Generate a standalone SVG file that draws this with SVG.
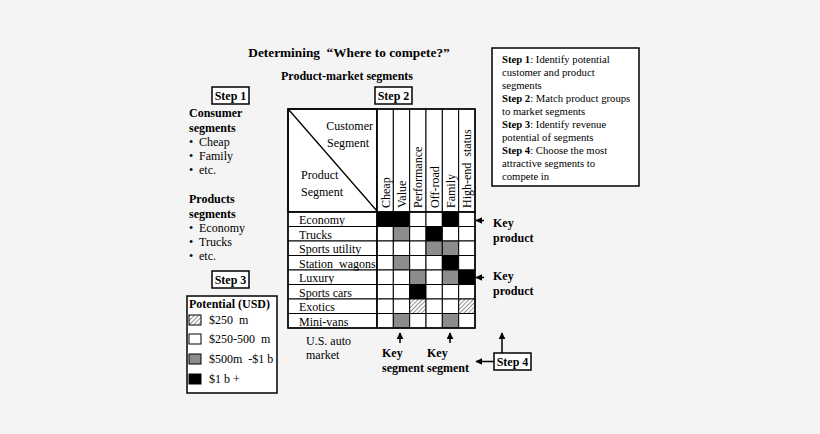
<svg xmlns="http://www.w3.org/2000/svg" width="820" height="434" viewBox="0 0 820 434">
<defs>
<style>
.t{font-family:"Liberation Serif","Times New Roman",serif;font-size:12px;fill:#000}
.s{font-size:10.7px}
.ttl{font-size:13.3px}
.b{font-weight:bold}
.box{fill:#fff;stroke:#000;stroke-width:1.5}
.cell{stroke:#000;stroke-width:1}
.w{fill:#fff}.g{fill:#8c8c8c}.k{fill:#000}.h{fill:url(#hatch)}
.ln{stroke:#000;stroke-width:1.5;fill:none}
</style>
<pattern id="hatch" width="3" height="3" patternUnits="userSpaceOnUse" patternTransform="rotate(45)">
<rect width="3" height="3" fill="#fff"/>
<line x1="0" y1="0" x2="0" y2="3" stroke="#777" stroke-width="1.6"/>
</pattern>
<marker id="ah" viewBox="0 0 10 10" refX="9" refY="5" markerWidth="7" markerHeight="7" orient="auto" markerUnits="userSpaceOnUse">
<path d="M0,0 L10,5 L0,10 z" fill="#000"/>
</marker>
</defs>
<rect width="820" height="434" fill="#f4f4f4"/>

<g id="title">
<text class="t b ttl" x="349" y="57" text-anchor="middle" style="white-space:pre">Determining  “Where to compete?”</text>
<text class="t b" x="347" y="80" text-anchor="middle">Product-market segments</text>
</g>

<g id="step1">
<rect class="box" x="212" y="87" width="37" height="17"/>
<text class="t b" x="230.5" y="100" text-anchor="middle">Step 1</text>
</g>
<g id="step2">
<rect class="box" x="375" y="87" width="37" height="17"/>
<text class="t b" x="393.5" y="100" text-anchor="middle">Step 2</text>
</g>
<g id="step3">
<rect class="box" x="212" y="271" width="37" height="17"/>
<text class="t b" x="230.5" y="284" text-anchor="middle">Step 3</text>
</g>

<g id="segments-list">
<text class="t b" x="189" y="117">Consumer</text>
<text class="t b" x="189" y="132">segments</text>
<text class="t" x="189" y="146">•</text><text class="t" x="199" y="146">Cheap</text>
<text class="t" x="189" y="160">•</text><text class="t" x="199" y="160">Family</text>
<text class="t" x="189" y="174">•</text><text class="t" x="199" y="174">etc.</text>
<text class="t b" x="189" y="203">Products</text>
<text class="t b" x="189" y="218">segments</text>
<text class="t" x="189" y="232">•</text><text class="t" x="199" y="232">Economy</text>
<text class="t" x="189" y="246">•</text><text class="t" x="199" y="246">Trucks</text>
<text class="t" x="189" y="260">•</text><text class="t" x="199" y="260">etc.</text>
</g>

<g id="legend">
<rect class="box" x="187" y="296" width="90" height="97"/>
<text class="t b" x="189" y="308">Potential (USD)</text>
<rect class="cell h" x="189" y="315" width="12" height="10"/>
<text class="t" x="209" y="324" style="white-space:pre">$250  m</text>
<rect class="cell w" x="189" y="334" width="12" height="10"/>
<text class="t" x="209" y="343" style="white-space:pre">$250-500  m</text>
<rect class="cell g" x="189" y="354" width="12" height="10"/>
<text class="t" x="209" y="363" style="white-space:pre">$500m  -$1 b</text>
<rect class="cell k" x="189" y="374" width="12" height="10"/>
<text class="t" x="209" y="383">$1 b +</text>
</g>

<g id="steps-box">
<rect class="box" x="492" y="48" width="147" height="138"/>
<text class="t s" x="502" y="63"><tspan class="b">Step 1</tspan>: Identify potential</text>
<text class="t s" x="502" y="76">customer and product</text>
<text class="t s" x="502" y="89">segments</text>
<text class="t s" x="502" y="102"><tspan class="b">Step 2</tspan>: Match product groups</text>
<text class="t s" x="502" y="115">to market segments</text>
<text class="t s" x="502" y="128"><tspan class="b">Step 3</tspan>: Identify revenue</text>
<text class="t s" x="502" y="141">potential of segments</text>
<text class="t s" x="502" y="154"><tspan class="b">Step 4</tspan>: Choose the most</text>
<text class="t s" x="502" y="167">attractive segments to</text>
<text class="t s" x="502" y="180">compete in</text>
</g>

<g id="matrix">
<rect x="288" y="109" width="89" height="103" fill="#fff" stroke="#000" stroke-width="1.5"/>
<line x1="289" y1="110" x2="377" y2="211" stroke="#000" stroke-width="1.3"/>
<text class="t" x="373" y="130" text-anchor="end">Customer</text>
<text class="t" x="327" y="147">Segment</text>
<text class="t" x="301" y="179">Product</text>
<text class="t" x="301" y="196">Segment</text>
<g id="col-headers">
<rect class="cell w" x="377" y="109" width="16.33" height="103"/>
<rect class="cell w" x="393.33" y="109" width="16.33" height="103"/>
<rect class="cell w" x="409.67" y="109" width="16.33" height="103"/>
<rect class="cell w" x="426" y="109" width="16.33" height="103"/>
<rect class="cell w" x="442.33" y="109" width="16.33" height="103"/>
<rect class="cell w" x="458.67" y="109" width="16.33" height="103"/>
<text class="t" transform="translate(389.5,208) rotate(-90)">Cheap</text>
<text class="t" transform="translate(405.8,208) rotate(-90)">Value</text>
<text class="t" transform="translate(422.2,208) rotate(-90)">Performance</text>
<text class="t" transform="translate(438.5,208) rotate(-90)">Off-road</text>
<text class="t" transform="translate(454.8,208) rotate(-90)">Family</text>
<text class="t" transform="translate(471.2,208) rotate(-90)" style="white-space:pre">High-end  status</text>
</g>
<g id="rows">
<rect class="cell w" x="288" y="212" width="89" height="14.5"/>
<rect class="cell w" x="288" y="226.5" width="89" height="14.5"/>
<rect class="cell w" x="288" y="241" width="89" height="14.5"/>
<rect class="cell w" x="288" y="255.5" width="89" height="14.5"/>
<rect class="cell w" x="288" y="270" width="89" height="14.5"/>
<rect class="cell w" x="288" y="284.5" width="89" height="14.5"/>
<rect class="cell w" x="288" y="299" width="89" height="14.5"/>
<rect class="cell w" x="288" y="313.5" width="89" height="14.5"/>
<text class="t" x="299" y="224">Economy</text>
<text class="t" x="299" y="238.5">Trucks</text>
<text class="t" x="299" y="253">Sports utility</text>
<text class="t" x="299" y="267.5" style="white-space:pre">Station  wagons</text>
<text class="t" x="299" y="282">Luxury</text>
<text class="t" x="299" y="296.5">Sports cars</text>
<text class="t" x="299" y="311">Exotics</text>
<text class="t" x="299" y="325.5">Mini-vans</text>
</g>
<g id="cells">
<rect class="cell k" x="377" y="212" width="16.33" height="14.5"/>
<rect class="cell k" x="393.33" y="212" width="16.33" height="14.5"/>
<rect class="cell w" x="409.67" y="212" width="16.33" height="14.5"/>
<rect class="cell w" x="426" y="212" width="16.33" height="14.5"/>
<rect class="cell k" x="442.33" y="212" width="16.33" height="14.5"/>
<rect class="cell w" x="458.67" y="212" width="16.33" height="14.5"/>
<rect class="cell w" x="377" y="226.5" width="16.33" height="14.5"/>
<rect class="cell g" x="393.33" y="226.5" width="16.33" height="14.5"/>
<rect class="cell w" x="409.67" y="226.5" width="16.33" height="14.5"/>
<rect class="cell k" x="426" y="226.5" width="16.33" height="14.5"/>
<rect class="cell w" x="442.33" y="226.5" width="16.33" height="14.5"/>
<rect class="cell w" x="458.67" y="226.5" width="16.33" height="14.5"/>
<rect class="cell w" x="377" y="241" width="16.33" height="14.5"/>
<rect class="cell w" x="393.33" y="241" width="16.33" height="14.5"/>
<rect class="cell w" x="409.67" y="241" width="16.33" height="14.5"/>
<rect class="cell g" x="426" y="241" width="16.33" height="14.5"/>
<rect class="cell g" x="442.33" y="241" width="16.33" height="14.5"/>
<rect class="cell w" x="458.67" y="241" width="16.33" height="14.5"/>
<rect class="cell w" x="377" y="255.5" width="16.33" height="14.5"/>
<rect class="cell g" x="393.33" y="255.5" width="16.33" height="14.5"/>
<rect class="cell w" x="409.67" y="255.5" width="16.33" height="14.5"/>
<rect class="cell w" x="426" y="255.5" width="16.33" height="14.5"/>
<rect class="cell k" x="442.33" y="255.5" width="16.33" height="14.5"/>
<rect class="cell w" x="458.67" y="255.5" width="16.33" height="14.5"/>
<rect class="cell w" x="377" y="270" width="16.33" height="14.5"/>
<rect class="cell w" x="393.33" y="270" width="16.33" height="14.5"/>
<rect class="cell g" x="409.67" y="270" width="16.33" height="14.5"/>
<rect class="cell w" x="426" y="270" width="16.33" height="14.5"/>
<rect class="cell g" x="442.33" y="270" width="16.33" height="14.5"/>
<rect class="cell k" x="458.67" y="270" width="16.33" height="14.5"/>
<rect class="cell w" x="377" y="284.5" width="16.33" height="14.5"/>
<rect class="cell w" x="393.33" y="284.5" width="16.33" height="14.5"/>
<rect class="cell k" x="409.67" y="284.5" width="16.33" height="14.5"/>
<rect class="cell w" x="426" y="284.5" width="16.33" height="14.5"/>
<rect class="cell w" x="442.33" y="284.5" width="16.33" height="14.5"/>
<rect class="cell w" x="458.67" y="284.5" width="16.33" height="14.5"/>
<rect class="cell w" x="377" y="299" width="16.33" height="14.5"/>
<rect class="cell w" x="393.33" y="299" width="16.33" height="14.5"/>
<rect class="cell h" x="409.67" y="299" width="16.33" height="14.5"/>
<rect class="cell w" x="426" y="299" width="16.33" height="14.5"/>
<rect class="cell w" x="442.33" y="299" width="16.33" height="14.5"/>
<rect class="cell h" x="458.67" y="299" width="16.33" height="14.5"/>
<rect class="cell w" x="377" y="313.5" width="16.33" height="14.5"/>
<rect class="cell g" x="393.33" y="313.5" width="16.33" height="14.5"/>
<rect class="cell w" x="409.67" y="313.5" width="16.33" height="14.5"/>
<rect class="cell w" x="426" y="313.5" width="16.33" height="14.5"/>
<rect class="cell g" x="442.33" y="313.5" width="16.33" height="14.5"/>
<rect class="cell w" x="458.67" y="313.5" width="16.33" height="14.5"/>
</g>
<rect x="288" y="109" width="187" height="219" fill="none" stroke="#000" stroke-width="1.5"/>
<line x1="377" y1="109" x2="377" y2="328" stroke="#000" stroke-width="1.5"/>
<line x1="288" y1="212" x2="475" y2="212" stroke="#000" stroke-width="1.5"/>
</g>

<g id="step4">
<rect class="box" x="494" y="353" width="37" height="17"/>
<text class="t b" x="512.5" y="366" text-anchor="middle">Step 4</text>
</g>

<g id="labels">
<text class="t" x="306" y="345">U.S. auto</text>
<text class="t" x="306" y="359">market</text>
<text class="t b" x="382" y="357">Key</text>
<text class="t b" x="382" y="372">segment</text>
<text class="t b" x="427" y="357">Key</text>
<text class="t b" x="427" y="372">segment</text>
<text class="t b" x="493" y="227">Key</text>
<text class="t b" x="493" y="242">product</text>
<text class="t b" x="493" y="280">Key</text>
<text class="t b" x="493" y="295">product</text>
</g>

<g id="connectors">
<line class="ln" x1="400" y1="343" x2="400" y2="333" marker-end="url(#ah)"/>
<line class="ln" x1="450" y1="343" x2="450" y2="333" marker-end="url(#ah)"/>
<line class="ln" x1="484" y1="220.5" x2="476" y2="220.5" marker-end="url(#ah)"/>
<line class="ln" x1="484" y1="277.5" x2="476" y2="277.5" marker-end="url(#ah)"/>
<line class="ln" x1="502" y1="353" x2="502" y2="333" marker-end="url(#ah)"/>
<line class="ln" x1="494" y1="361.5" x2="476" y2="361.5" marker-end="url(#ah)"/>
</g>
</svg>
